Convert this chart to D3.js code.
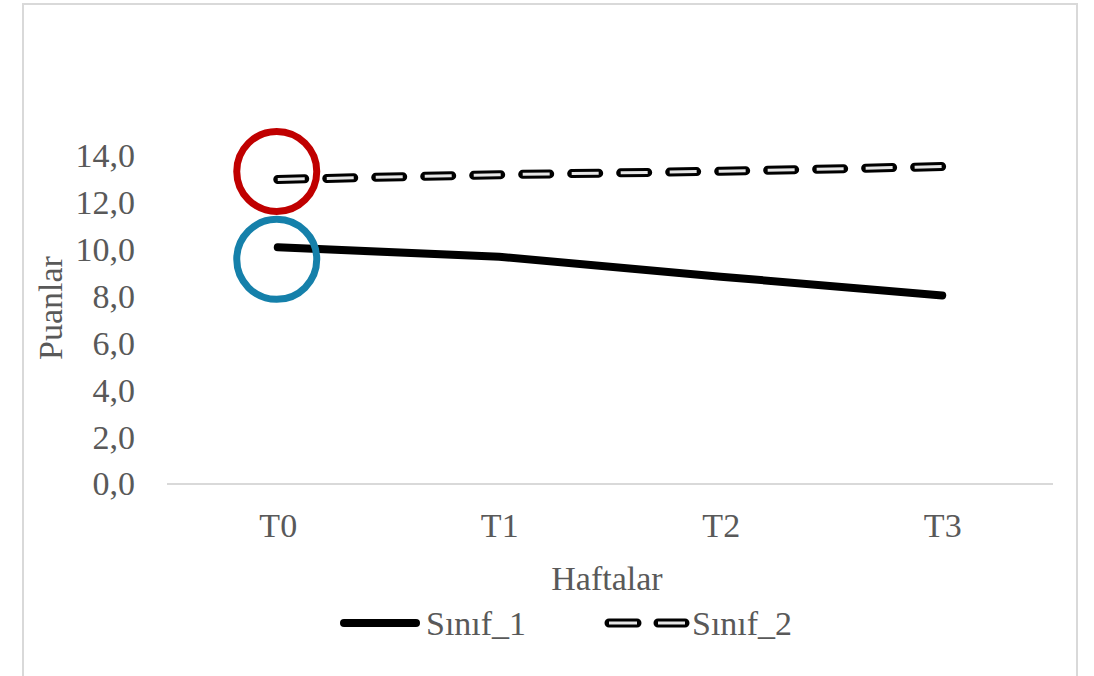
<!DOCTYPE html>
<html>
<head>
<meta charset="utf-8">
<script src="https://cdn.jsdelivr.net/npm/d3@7"></script>
<style>
  html, body { margin: 0; padding: 0; background: #fff; }
  svg { display: block; }
  text { font-family: "Liberation Serif", "DejaVu Serif", serif; fill: #595959; }
</style>
</head>
<body>
<svg id="chart" width="1094" height="676"></svg>
<script>
// Weekly scores per class
const weeks = ["T0", "T1", "T2", "T3"];
const sinif1 = [10.1, 9.7, 8.85, 8.05];
const sinif2 = [13.0, 13.2, 13.35, 13.55];
const yTicks = [0, 2, 4, 6, 8, 10, 12, 14];
const seriesNames = ["Sınıf_1", "Sınıf_2"];

const svg = d3.select("#chart");
const FONT = 34;

// chart frame
svg.append("rect")
  .attr("x", 23).attr("y", 4)
  .attr("width", 1054).attr("height", 700)
  .attr("fill", "#fff")
  .attr("stroke", "#d9d9d9").attr("stroke-width", 2);

const plot = { left: 167, right: 1053, top: 156, bottom: 484 };

const x = d3.scalePoint()
  .domain(weeks)
  .range([plot.left, plot.right])
  .padding(0.5);

const y = d3.scaleLinear()
  .domain([0, 14])
  .range([plot.bottom, plot.top]);

// y axis labels (no axis line)
const yAxis = d3.axisLeft(y)
  .tickValues(yTicks)
  .tickSize(0)
  .tickPadding(0)
  .tickFormat(d => d3.format(".1f")(d).replace(".", ","));

svg.append("g")
  .attr("transform", `translate(135,0)`)
  .call(yAxis)
  .call(g => g.select(".domain").remove())
  .call(g => g.selectAll("text")
    .attr("font-size", FONT)
    .attr("fill", "#595959")
    .attr("dy", "0.32em"));

// x axis: baseline plus category labels
const xAxis = d3.axisBottom(x).tickSize(0).tickPadding(0);
svg.append("g")
  .attr("transform", `translate(0,${plot.bottom})`)
  .call(xAxis)
  .call(g => g.select(".domain")
    .attr("d", `M${plot.left},0H${plot.right}`)
    .attr("stroke", "#d9d9d9").attr("stroke-width", 2))
  .call(g => g.selectAll("text")
    .attr("font-size", FONT)
    .attr("fill", "#595959")
    .attr("y", 42)
    .attr("dy", "0.32em"));
svg.selectAll("g").attr("font-family", null).attr("font-size", null);

// axis titles
svg.append("text")
  .attr("x", 607).attr("y", 578)
  .attr("text-anchor", "middle")
  .attr("dominant-baseline", "central")
  .attr("font-size", FONT)
  .text("Haftalar");

svg.append("text")
  .attr("transform", "translate(50,308) rotate(-90)")
  .attr("text-anchor", "middle")
  .attr("dominant-baseline", "central")
  .attr("font-size", FONT)
  .text("Puanlar");

const line = d3.line()
  .x((d, i) => x(weeks[i]))
  .y(d => y(d));

// Sınıf_1: solid thick line
svg.append("path")
  .datum(sinif1)
  .attr("d", line)
  .attr("fill", "none")
  .attr("stroke", "#000")
  .attr("stroke-width", 8)
  .attr("stroke-linecap", "round")
  .attr("stroke-linejoin", "round");

// Sınıf_2: outlined (double) dashed line
const dash = "27,22";
svg.append("path")
  .datum(sinif2)
  .attr("d", line)
  .attr("fill", "none")
  .attr("stroke", "#000")
  .attr("stroke-width", 9)
  .attr("stroke-linecap", "round")
  .attr("stroke-dasharray", dash);
svg.append("path")
  .datum(sinif2)
  .attr("d", line)
  .attr("fill", "none")
  .attr("stroke", "#e6e6e6")
  .attr("stroke-width", 3)
  .attr("stroke-linecap", "butt")
  .attr("stroke-dasharray", dash);

// highlight rings around the T0 values
const rings = [
  { value: sinif2[0], color: "#c00000", dy: -8 },
  { value: sinif1[0], color: "#1580aa", dy: 12 }
];
svg.selectAll("circle.ring")
  .data(rings)
  .join("circle")
  .attr("class", "ring")
  .attr("cx", x(weeks[0]) - 1)
  .attr("cy", d => y(d.value) + d.dy)
  .attr("r", 40)
  .attr("fill", "none")
  .attr("stroke", d => d.color)
  .attr("stroke-width", 7);

// legend
const legY = 623;
const leg = svg.append("g");
leg.append("line")
  .attr("x1", 344).attr("x2", 416)
  .attr("y1", legY).attr("y2", legY)
  .attr("stroke", "#000").attr("stroke-width", 8)
  .attr("stroke-linecap", "round");
leg.append("text")
  .attr("x", 426).attr("y", legY)
  .attr("dominant-baseline", "central")
  .attr("font-size", FONT)
  .text(seriesNames[0]);

leg.append("line")
  .attr("x1", 609).attr("x2", 685)
  .attr("y1", legY).attr("y2", legY)
  .attr("stroke", "#000").attr("stroke-width", 9)
  .attr("stroke-linecap", "round")
  .attr("stroke-dasharray", "28,21");
leg.append("line")
  .attr("x1", 609).attr("x2", 685)
  .attr("y1", legY).attr("y2", legY)
  .attr("stroke", "#e6e6e6").attr("stroke-width", 3)
  .attr("stroke-dasharray", "28,21");
leg.append("text")
  .attr("x", 692).attr("y", legY)
  .attr("dominant-baseline", "central")
  .attr("font-size", FONT)
  .text(seriesNames[1]);
</script>
</body>
</html>
